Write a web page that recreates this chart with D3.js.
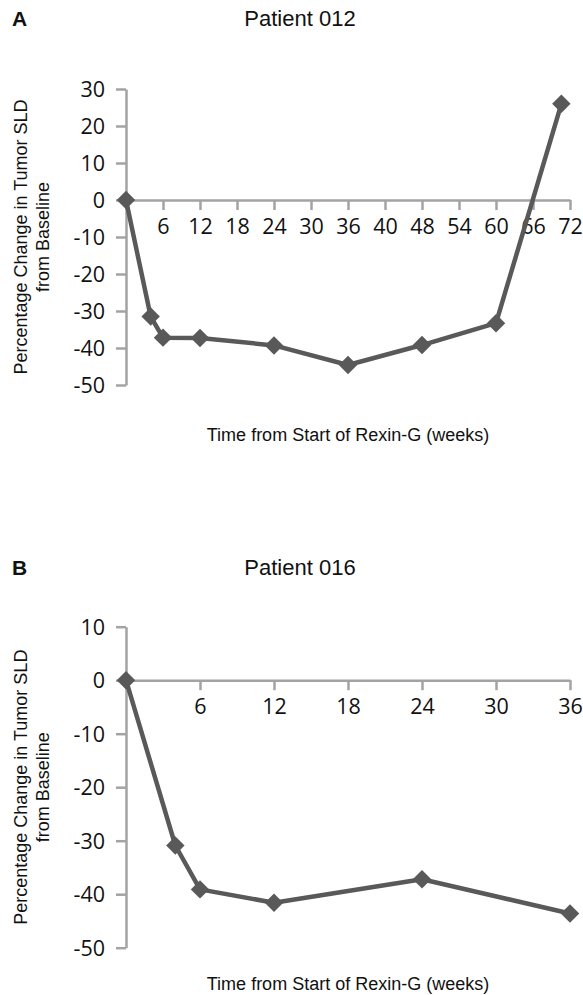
<!DOCTYPE html>
<html>
<head>
<meta charset="utf-8">
<script src="https://cdn.jsdelivr.net/npm/d3@7"></script>
<style>
  body { margin: 0; background: #fff; }
  svg { display: block; }
</style>
</head>
<body>
<div id="chart"></div>
<script>
// Panel A - Patient 012
const weeksA = [0, 4, 6, 12, 24, 36, 48, 60, 70.6];
const changeA = [0, -31.5, -37.2, -37.3, -39.3, -44.6, -39.2, -33.3, 26];
const xTicksA = [6, 12, 18, 24, 30, 36, 42, 48, 54, 60, 66, 72];
const xTickLabelsA = ['6', '12', '18', '24', '30', '36', '40', '48', '54', '60', '66', '72'];
const yTicksA = [30, 20, 10, 0, -10, -20, -30, -40, -50];

// Panel B - Patient 016
const weeksB = [0, 4, 6, 12, 24, 36];
const changeB = [0, -30.9, -39.1, -41.6, -37.2, -43.6];
const xTicksB = [6, 12, 18, 24, 30, 36];
const xTickLabelsB = ['6', '12', '18', '24', '30', '36'];
const yTicksB = [10, 0, -10, -20, -30, -40, -50];

const width = 583;
const height = 995;
const lineColor = '#595959';
const axisColor = '#a3a3a3';
const sansFont = "'Liberation Sans', Arial, sans-serif";
const tickFont = "'Open Sans', sans-serif";

const svg = d3.select('#chart')
  .append('svg')
  .attr('width', width)
  .attr('height', height)
  .attr('viewBox', `0 0 ${width} ${height}`);

function drawPanel(p) {
  const g = svg.append('g');

  const x = d3.scaleLinear().domain([0, p.xMax]).range([126, 570]);
  const y = d3.scaleLinear().domain([p.yTicks[p.yTicks.length - 1], p.yTicks[0]]).range([p.yBottom, p.yTop]);

  // panel letter and title
  g.append('text')
    .attr('x', 12).attr('y', p.titleY)
    .attr('font-family', sansFont).attr('font-weight', 'bold').attr('font-size', 21)
    .attr('fill', '#111')
    .text(p.letter);

  g.append('text')
    .attr('x', 300).attr('y', p.titleY)
    .attr('text-anchor', 'middle')
    .attr('font-family', sansFont).attr('font-size', 22)
    .attr('fill', '#111')
    .text(p.title);

  // y axis (plain hyphen for negatives, as in the figure)
  const yAxis = g.append('g')
    .attr('transform', `translate(${x(0)},0)`)
    .call(d3.axisLeft(y).tickValues(p.yTicks).tickSize(10).tickSizeOuter(0).tickPadding(11)
      .tickFormat((d) => String(d)));

  // x axis along zero
  const xAxis = g.append('g')
    .attr('transform', `translate(0,${y(0)})`)
    .call(d3.axisBottom(x).tickValues(p.xTicks).tickSize(10).tickSizeOuter(0).tickPadding(9)
      .tickFormat((d, i) => p.xLabels[i]));

  [yAxis, xAxis].forEach((ax) => {
    ax.attr('font-size', null).attr('font-family', null);
    ax.select('.domain').attr('stroke', axisColor).attr('stroke-width', 2.5);
    ax.selectAll('.tick line').attr('stroke', axisColor).attr('stroke-width', 2.5);
    ax.selectAll('.tick text')
      .style('font-family', tickFont).style('font-size', '21.5px').attr('fill', '#111');
  });
  yAxis.selectAll('.tick text').attr('dy', '0.35em');

  // axis titles
  g.append('text')
    .attr('transform', `translate(27,${(p.yTop + p.yBottom) / 2}) rotate(-90)`)
    .attr('text-anchor', 'middle')
    .attr('font-family', sansFont).attr('font-size', 18).attr('fill', '#111')
    .text('Percentage Change in Tumor SLD');
  g.append('text')
    .attr('transform', `translate(49,${(p.yTop + p.yBottom) / 2}) rotate(-90)`)
    .attr('text-anchor', 'middle')
    .attr('font-family', sansFont).attr('font-size', 18).attr('fill', '#111')
    .text('from Baseline');

  g.append('text')
    .attr('x', 348).attr('y', p.xTitleY)
    .attr('text-anchor', 'middle')
    .attr('font-family', sansFont).attr('font-size', 18).attr('fill', '#111')
    .text('Time from Start of Rexin-G (weeks)');

  // series
  const pts = p.weeks.map((w, i) => [w, p.values[i]]);
  const line = d3.line().x((d) => x(d[0])).y((d) => y(d[1]));

  g.append('path')
    .datum(pts)
    .attr('d', line)
    .attr('fill', 'none')
    .attr('stroke', lineColor)
    .attr('stroke-width', 4.5)
    .attr('stroke-linejoin', 'round');

  const diamond = d3.symbol().type(d3.symbolSquare).size(170);
  g.selectAll('path.marker')
    .data(pts)
    .enter()
    .append('path')
    .attr('class', 'marker')
    .attr('d', diamond)
    .attr('transform', (d) => `translate(${x(d[0])},${y(d[1])}) rotate(45)`)
    .attr('fill', lineColor);
}

drawPanel({
  letter: 'A', title: 'Patient 012', titleY: 26, xTitleY: 441,
  weeks: weeksA, values: changeA, xTicks: xTicksA, xLabels: xTickLabelsA, yTicks: yTicksA,
  xMax: 72, yTop: 89, yBottom: 385,
});

drawPanel({
  letter: 'B', title: 'Patient 016', titleY: 575, xTitleY: 990,
  weeks: weeksB, values: changeB, xTicks: xTicksB, xLabels: xTickLabelsB, yTicks: yTicksB,
  xMax: 36, yTop: 626.7, yBottom: 947.7,
});
</script>
</body>
</html>
